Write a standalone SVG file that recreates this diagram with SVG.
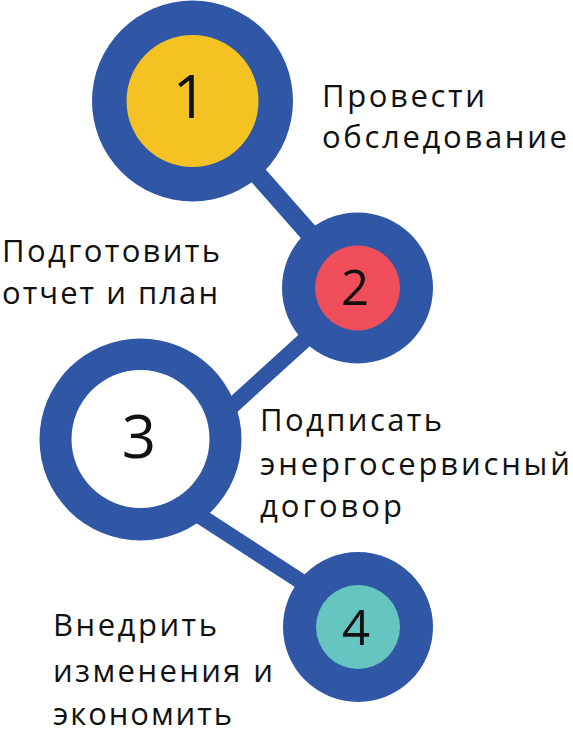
<svg xmlns="http://www.w3.org/2000/svg" width="573" height="735" viewBox="0 0 573 735">
<style>
.ring{fill:#2F57A5}
.bar{stroke:#2F57A5;stroke-linecap:butt;fill:none}
.lbl{font-family:"Open Sans","Noto Sans","Liberation Sans",sans-serif;font-size:31px;fill:#111}
.num{font-family:"Open Sans","Noto Sans","Liberation Sans",sans-serif;fill:#111;text-anchor:middle}
</style>
<rect width="573" height="735" fill="#ffffff"/>
<g id="connectors">
<line class="bar" x1="192.5" y1="101" x2="357.5" y2="288" stroke-width="19"/>
<line class="bar" x1="358.7" y1="291" x2="214.4" y2="422" stroke-width="16"/>
<line class="bar" x1="180" y1="503" x2="358" y2="618.4" stroke-width="16"/>
</g>
<g id="node1">
<circle class="ring" cx="192.5" cy="101" r="100.5"/>
<circle cx="192.5" cy="101" r="66" fill="#F5C223"/>
<text class="num" x="190" y="118" font-size="60">1</text>
<text class="lbl" x="322" y="107" textLength="163" lengthAdjust="spacing">Провести</text>
<text class="lbl" x="322" y="148" textLength="245" lengthAdjust="spacing">обследование</text>
</g>
<g id="node2">
<circle class="ring" cx="357.5" cy="288" r="75.5"/>
<circle cx="357.5" cy="288" r="42.5" fill="#F04E5A"/>
<text class="num" x="355" y="305" font-size="49">2</text>
<text class="lbl" x="2" y="262" textLength="218" lengthAdjust="spacing">Подготовить</text>
<text class="lbl" x="2" y="304" textLength="216" lengthAdjust="spacing">отчет и план</text>
</g>
<g id="node3">
<circle class="ring" cx="140.5" cy="439.5" r="101"/>
<circle cx="140.5" cy="439" r="69" fill="#ffffff"/>
<text class="num" x="139" y="458" font-size="60">3</text>
<text class="lbl" x="260" y="431" textLength="182" lengthAdjust="spacing">Подписать</text>
<text class="lbl" x="260" y="475" textLength="310" lengthAdjust="spacing">энергосервисный</text>
<text class="lbl" x="260" y="517" textLength="142" lengthAdjust="spacing">договор</text>
</g>
<g id="node4">
<circle class="ring" cx="358" cy="627" r="75"/>
<circle cx="358" cy="627" r="42" fill="#66C4C1"/>
<text class="num" x="356" y="645" font-size="49">4</text>
<text class="lbl" x="53" y="636" textLength="164" lengthAdjust="spacing">Внедрить</text>
<text class="lbl" x="53" y="682" textLength="220" lengthAdjust="spacing">изменения и</text>
<text class="lbl" x="53" y="725" textLength="179" lengthAdjust="spacing">экономить</text>
</g>
</svg>
